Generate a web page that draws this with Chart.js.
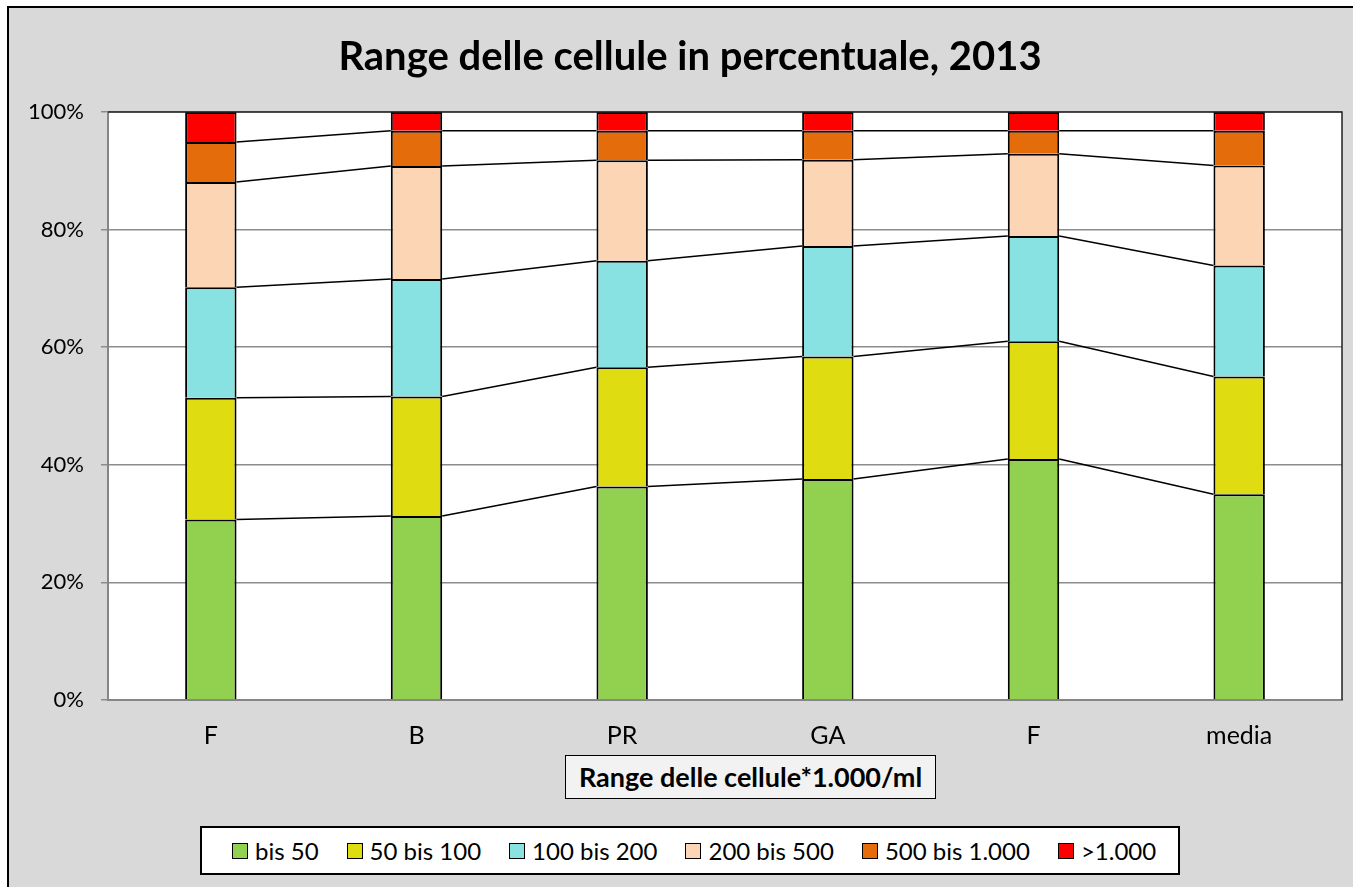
<!DOCTYPE html>
<html>
<head>
<meta charset="utf-8">
<script src="https://cdn.jsdelivr.net/npm/chart.js@4"></script>
<style>
  html, body { margin: 0; padding: 0; background: #fff; overflow: hidden; width: 1353px; height: 887px; font-family: Lato, "Noto Sans", sans-serif; }
  #frame { position: absolute; left: 7px; top: 6px; width: 1400px; height: 1000px; background: #d9d9d9; border: 2px solid #000; }
  #wrap { position: absolute; left: 0; top: 0; width: 1353px; height: 887px; }
  #titolo { position: absolute; left: 190px; width: 1000px; top: 31px; text-align: center; font-weight: bold; font-size: 40px; color: #000; }
  #asseX { position: absolute; left: 565px; top: 755px; width: 369px; height: 42px; background: #f2f2f2; border: 1.5px solid #000;
           font-weight: bold; font-size: 27px; line-height: 42px; text-align: center; }
  #legenda { position: absolute; left: 200px; top: 826px; width: 946px; height: 45px; padding-left: 30px; background: #fff; border: 2px solid #000;
             display: flex; align-items: center; justify-content: flex-start; gap: 28px; font-size: 24px; white-space: nowrap; }
  #legenda span.item { display: flex; align-items: center; }
  #legenda i { display: inline-block; width: 14px; height: 14px; border: 1px solid #000; margin-right: 7px; }
</style>
</head>
<body>
<div id="frame"></div>
<div id="wrap"><canvas id="grafico"></canvas></div>
<div id="titolo">Range delle cellule in percentuale, 2013</div>
<div id="asseX">Range delle cellule*1.000/ml</div>
<div id="legenda"></div>
<script>
// categorie e valori (percentuali per classe)
const categorie = ['F', 'B', 'PR', 'GA', 'F', 'media'];
const classi = ['bis 50', '50 bis 100', '100 bis 200', '200 bis 500', '500 bis 1.000', '>1.000'];
const bis50 = [30.7, 31.3, 36.3, 37.6, 41.0, 35.0];
const da50a100 = [20.7, 20.3, 20.3, 20.8, 20.0, 20.0];
const da100a200 = [18.8, 20.0, 18.1, 18.8, 17.9, 18.9];
const da200a500 = [17.9, 19.2, 17.1, 14.7, 14.0, 17.0];
const da500a1000 = [6.8, 6.0, 5.0, 4.9, 3.9, 5.9];
const oltre1000 = [5.1, 3.2, 3.2, 3.2, 3.2, 3.2];
const tickY = [0, 20, 40, 60, 80, 100];

const colori = ['#92d050', '#e0dc12', '#88e2e2', '#fcd5b4', '#e46c0a', '#ff0000'];
const serie = [bis50, da50a100, da100a200, da200a500, da500a1000, oltre1000];

// linee di serie tra le colonne
const lineeSerie = {
    id: 'lineeSerie',
    afterDatasetsDraw(chart) {
        const ctx = chart.ctx;
        ctx.save();
        ctx.strokeStyle = '#000';
        ctx.lineWidth = 1.5;
        for (let d = 0; d < chart.data.datasets.length - 1; d++) {
            const barre = chart.getDatasetMeta(d).data;
            for (let i = 0; i < barre.length - 1; i++) {
                const a = barre[i], b = barre[i + 1];
                ctx.beginPath();
                ctx.moveTo(a.x + a.width / 2, a.y);
                ctx.lineTo(b.x - b.width / 2, b.y);
                ctx.stroke();
            }
        }
        ctx.restore();
    }
};

// sfondo e bordo dell'area del grafico
const areaGrafico = {
    id: 'areaGrafico',
    beforeDraw(chart) {
        const { ctx, chartArea: a } = chart;
        ctx.save();
        ctx.fillStyle = '#fff';
        ctx.fillRect(a.left, a.top, a.right - a.left, a.bottom - a.top);
        ctx.restore();
    },
    afterDatasetsDraw(chart) {
        const { ctx, chartArea: a } = chart;
        ctx.save();
        ctx.strokeStyle = '#222';
        ctx.lineWidth = 1.5;
        ctx.beginPath();
        ctx.moveTo(a.left, a.top);
        ctx.lineTo(a.right, a.top);
        ctx.lineTo(a.right, a.bottom);
        ctx.stroke();
        ctx.restore();
    }
};

const grafico = new Chart(document.getElementById('grafico').getContext('2d'), {
    type: 'bar',
    data: {
        labels: categorie,
        datasets: serie.map((valori, k) => ({
            label: classi[k],
            data: valori,
            backgroundColor: colori[k],
            borderColor: '#000',
            borderWidth: 2,
            barPercentage: 0.25,
            categoryPercentage: 1,
        })),
    },
    options: {
        responsive: true,
        maintainAspectRatio: false,
        animation: false,
        layout: { padding: { left: 0, right: 11, top: 112, bottom: 107 } },
        plugins: {
            legend: { display: false },
            title: { display: false },
            tooltip: { enabled: false },
        },
        scales: {
            x: {
                stacked: true,
                afterFit: s => { s.height = 80; },
                grid: { display: false, drawTicks: false },
                border: { color: '#868686', width: 2 },
                ticks: { color: '#000', padding: 21, font: { family: 'Lato', size: 25 } },
            },
            y: {
                stacked: true,
                min: 0,
                max: 100,
                afterFit: s => { s.width = 108; },
                afterBuildTicks: s => { s.ticks = tickY.map(v => ({ value: v })); },
                grid: { color: '#8c8c8c', lineWidth: 1.5, tickLength: 7 },
                border: { color: '#868686', width: 2 },
                ticks: {
                    color: '#000',
                    padding: 17,
                    font: { family: 'Lato', size: 22 },
                    callback: v => v + '%',
                },
            },
        },
    },
    plugins: [areaGrafico, lineeSerie],
});

// legenda costruita dai dataset
const legenda = document.getElementById('legenda');
grafico.data.datasets.forEach(ds => {
    const item = document.createElement('span');
    item.className = 'item';
    const box = document.createElement('i');
    box.style.background = ds.backgroundColor;
    item.appendChild(box);
    item.appendChild(document.createTextNode(ds.label));
    legenda.appendChild(item);
});
</script>
</body>
</html>
